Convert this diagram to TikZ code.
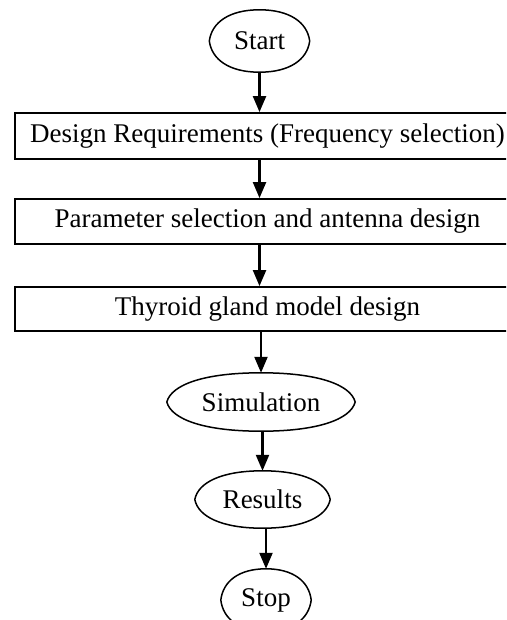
\documentclass[tikz,border=0pt]{standalone}
\usepackage{fontspec}
\setmainfont{Liberation Serif}
\usetikzlibrary{arrows.meta,shapes.geometric,calc}
\tikzset{
  term/.style={ellipse, draw=none, inner sep=0pt, font=\fontsize{27}{31}\selectfont},
  procbox/.style={rectangle, draw, line width=1.8pt, inner sep=0pt, minimum width=505pt, font=\fontsize{27}{31}\selectfont},
  arr/.style={line width=2.2pt, -{Triangle[width=13pt,length=16pt]}},
  outline/.style={line width=1.5pt}
}
\begin{document}
\begin{tikzpicture}[x=1pt,y=-1pt]
\useasboundingbox (0,0) rectangle (506,620);
\clip (0,0) rectangle (506,620);
\node[term, minimum width=100pt, minimum height=62pt] (start) at (259.5,41) {Start};
\node[procbox, minimum height=46pt] (b1) at (267.5,136) {Design Requirements (Frequency selection)};
\node[procbox, minimum height=45pt] (b2) at (267.5,221.5) {Parameter selection and antenna design};
\node[procbox, minimum height=44pt] (b3) at (267.5,309) {Thyroid gland model design};
\node[term, minimum width=188pt, minimum height=58pt] (sim) at (261,402) {Simulation};
\node[term, minimum width=135pt, minimum height=57pt] (res) at (262.5,499.5) {Results};
\node[term, minimum width=90pt, minimum height=62pt] (stop) at (266,600) {Stop};
\foreach \nd in {start,sim,res,stop}{
  \draw[outline] let \p1=(\nd.center), \p2=(\nd.east), \p3=(\nd.north), \n1={\x2-\x1}, \n2={\y3-\y1} in
    (\x1-\n1,\y1) .. controls (\x1-0.95*\n1,\y1+0.6*\n2) and (\x1-0.6*\n1,\y1+\n2) .. (\x1,\y1+\n2)
    .. controls (\x1+0.6*\n1,\y1+\n2) and (\x1+0.95*\n1,\y1+0.6*\n2) .. (\x1+\n1,\y1)
    .. controls (\x1+0.95*\n1,\y1-0.6*\n2) and (\x1+0.6*\n1,\y1-\n2) .. (\x1,\y1-\n2)
    .. controls (\x1-0.6*\n1,\y1-\n2) and (\x1-0.95*\n1,\y1-0.6*\n2) .. cycle;
}
\draw[arr] (start.south) -- (start.south |- b1.north);
\draw[arr] (b1.south -| start) -- (b2.north -| start);
\draw[arr] (b2.south -| start) -- (b3.north -| start);
\draw[arr] (b3.south -| sim) -- (sim.north);
\draw[arr] (sim.south -| res) -- (res.north);
\draw[arr] (res.south -| stop) -- (stop.north);
\end{tikzpicture}
\end{document}
